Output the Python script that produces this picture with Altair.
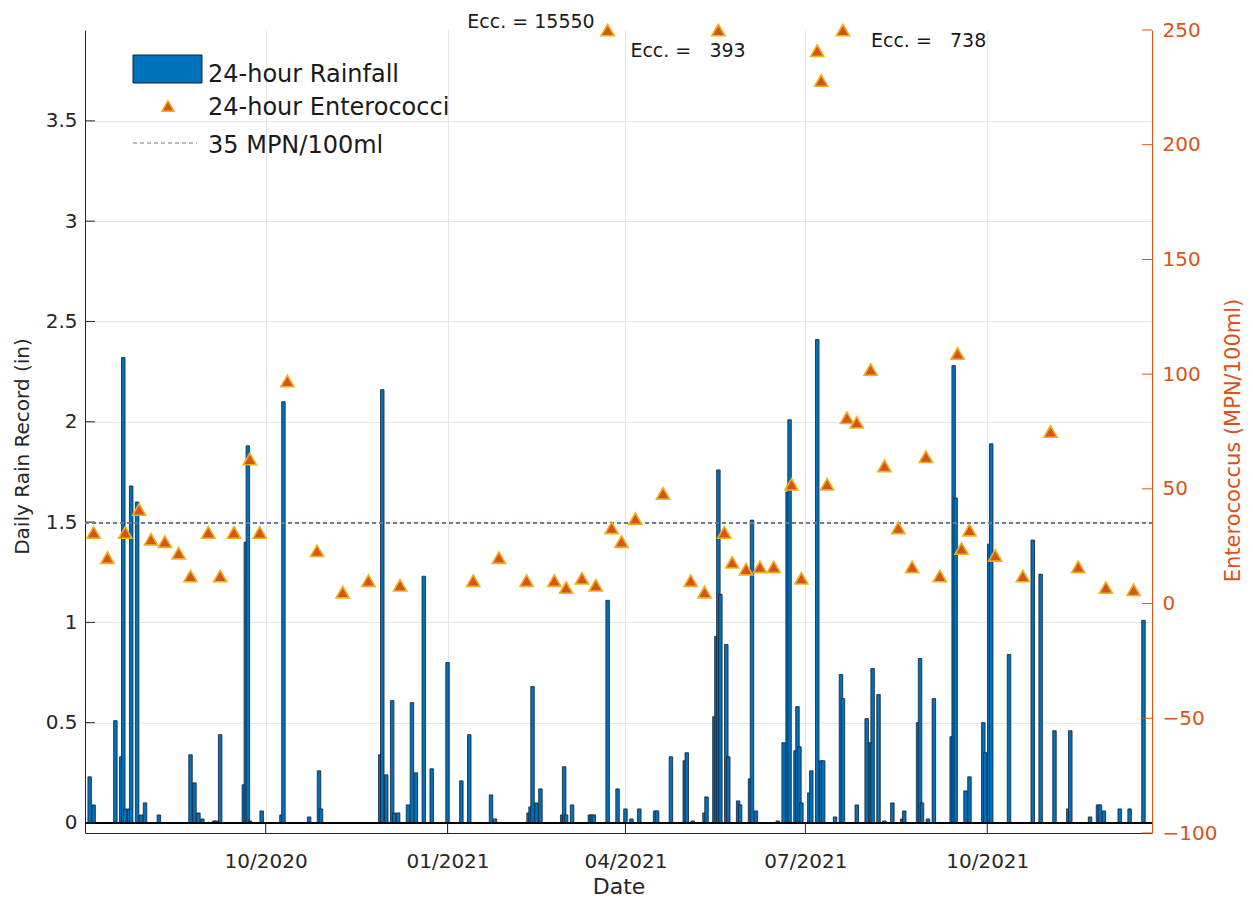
import altair as alt
import pandas as pd

# ---------------- data ----------------
rain_dates = [
    "2020-07-04", "2020-07-06", "2020-07-17", "2020-07-20", "2020-07-21", "2020-07-22", "2020-07-24", "2020-07-25", "2020-07-28", "2020-07-30",
    "2020-08-01", "2020-08-08", "2020-08-24", "2020-08-26", "2020-08-28", "2020-08-30", "2020-09-05", "2020-09-06", "2020-09-08", "2020-09-20",
    "2020-09-21", "2020-09-22", "2020-09-23", "2020-09-29", "2020-10-09", "2020-10-10", "2020-10-23", "2020-10-28", "2020-10-29", "2020-11-28",
    "2020-11-29", "2020-12-01", "2020-12-04", "2020-12-05", "2020-12-07", "2020-12-12", "2020-12-14", "2020-12-16", "2020-12-20", "2020-12-24",
    "2021-01-01", "2021-01-08", "2021-01-12", "2021-01-23", "2021-01-25", "2021-02-11", "2021-02-12", "2021-02-13", "2021-02-15", "2021-02-17",
    "2021-02-28", "2021-03-01", "2021-03-02", "2021-03-05", "2021-03-14", "2021-03-15", "2021-03-16", "2021-03-23", "2021-03-28", "2021-04-01",
    "2021-04-04", "2021-04-08", "2021-04-16", "2021-04-17", "2021-04-24", "2021-05-01", "2021-05-02", "2021-05-05", "2021-05-11", "2021-05-12",
    "2021-05-16", "2021-05-17", "2021-05-18", "2021-05-19", "2021-05-22", "2021-05-23", "2021-05-28", "2021-05-29", "2021-06-03", "2021-06-04",
    "2021-06-06", "2021-06-17", "2021-06-20", "2021-06-22", "2021-06-23", "2021-06-26", "2021-06-27", "2021-06-28", "2021-06-29", "2021-07-03",
    "2021-07-04", "2021-07-07", "2021-07-09", "2021-07-10", "2021-07-16", "2021-07-19", "2021-07-20", "2021-07-27", "2021-08-01", "2021-08-03",
    "2021-08-04", "2021-08-07", "2021-08-10", "2021-08-14", "2021-08-19", "2021-08-20", "2021-08-27", "2021-08-28", "2021-08-29", "2021-09-01",
    "2021-09-04", "2021-09-13", "2021-09-14", "2021-09-15", "2021-09-20", "2021-09-22", "2021-09-29", "2021-09-30", "2021-10-02", "2021-10-03",
    "2021-10-12", "2021-10-24", "2021-10-28", "2021-11-04", "2021-11-11", "2021-11-12", "2021-11-22", "2021-11-26", "2021-11-27", "2021-11-29",
    "2021-12-07", "2021-12-12", "2021-12-19",
]
rain_in = [
    0.23, 0.09, 0.51, 0.33, 2.32, 0.07, 0.07, 1.68, 1.60, 0.04,
    0.10, 0.04, 0.34, 0.20, 0.05, 0.02, 0.01, 0.01, 0.44, 0.19,
    1.40, 1.88, 0.01, 0.06, 0.04, 2.10, 0.03, 0.26, 0.07, 0.34,
    2.16, 0.24, 0.61, 0.05, 0.05, 0.09, 0.60, 0.25, 1.23, 0.27,
    0.80, 0.21, 0.44, 0.14, 0.02, 0.05, 0.08, 0.68, 0.10, 0.17,
    0.04, 0.28, 0.04, 0.09, 0.04, 0.04, 0.04, 1.11, 0.17, 0.07,
    0.02, 0.07, 0.06, 0.06, 0.33, 0.31, 0.35, 0.01, 0.05, 0.13,
    0.53, 0.93, 1.76, 1.14, 0.89, 0.33, 0.11, 0.09, 0.22, 1.51,
    0.06, 0.01, 0.40, 1.65, 2.01, 0.36, 0.58, 0.38, 0.10, 0.15,
    0.26, 2.41, 0.31, 0.31, 0.03, 0.74, 0.62, 0.09, 0.52, 0.40,
    0.77, 0.64, 0.01, 0.10, 0.02, 0.06, 0.50, 0.82, 0.10, 0.02,
    0.62, 0.43, 2.28, 1.62, 0.16, 0.23, 0.50, 0.35, 1.39, 1.89,
    0.84, 1.41, 1.24, 0.46, 0.07, 0.46, 0.03, 0.09, 0.09, 0.06,
    0.07, 0.07, 1.01,
]

ecc_dates = [
    "2020-07-06", "2020-07-13", "2020-07-22", "2020-07-29", "2020-08-04", "2020-08-11", "2020-08-18", "2020-08-24", "2020-09-02", "2020-09-08",
    "2020-09-15", "2020-09-23", "2020-09-28", "2020-10-12", "2020-10-27", "2020-11-09", "2020-11-22", "2020-12-08", "2021-01-14", "2021-01-27",
    "2021-02-10", "2021-02-24", "2021-03-02", "2021-03-10", "2021-03-17", "2021-03-23", "2021-03-25", "2021-03-30", "2021-04-06", "2021-04-20",
    "2021-05-04", "2021-05-11", "2021-05-18", "2021-05-21", "2021-05-25", "2021-06-01", "2021-06-08", "2021-06-15", "2021-06-24", "2021-06-29",
    "2021-07-07", "2021-07-09", "2021-07-12", "2021-07-20", "2021-07-22", "2021-07-27", "2021-08-03", "2021-08-10", "2021-08-17", "2021-08-24",
    "2021-08-31", "2021-09-07", "2021-09-16", "2021-09-18", "2021-09-22", "2021-10-05", "2021-10-19", "2021-11-02", "2021-11-16", "2021-11-30",
    "2021-12-14",
]
ecc_vals = [
    31, 20, 31, 41, 28, 27, 22, 12, 31, 12,
    31, 63, 31, 97, 23, 5, 10, 8, 10, 20,
    10, 10, 7, 11, 8, 15550, 33, 27, 37, 48,
    10, 5, 393, 31, 18, 15, 16, 16, 52, 11,
    241, 228, 52, 738, 81, 79, 102, 60, 33, 16,
    64, 12, 109, 24, 32, 21, 12, 75, 16, 7,
    6,
]

left_ticks = [0, 0.5, 1, 1.5, 2, 2.5, 3, 3.5]
right_ticks = [-100, -50, 0, 50, 100, 150, 200, 250]
x_tick_dates = ["2020-10-01", "2021-01-01", "2021-04-01", "2021-07-01", "2021-10-01"]
threshold = 35
ecc_cap = 250
annot_dates = ["2021-03-23", "2021-05-18", "2021-07-20"]
annot_labels = ["Ecc. = 15550", "Ecc. =\u00a0\u00a0\u00a0393", "Ecc. =\u00a0\u00a0\u00a0738"]
legend_labels = ["24-hour Rainfall", "24-hour Enterococci", "35 MPN/100ml"]

# ---------------- styling ----------------
W, H = 1067, 803
BLUE = "#0072BD"
ORANGE = "#D95319"
YELLOW = "#EDB120"
AX = "#262626"
GRID = "#e6e6e6"
FONT = "DejaVu Sans"


def dt(s, hours=0):
    y, m, d = (int(p) for p in s.split("-"))
    return alt.DateTime(year=y, month=m, date=d, hours=hours, utc=True)


x_scale = alt.Scale(type="utc", domain=[dt("2020-07-04", 4), dt("2021-12-20", 19)])
yl_scale = alt.Scale(domain=[-0.05, 3.953], nice=False, zero=False)
yr_scale = alt.Scale(domain=[-100, 250], nice=False, zero=False)

x_axis = alt.Axis(
    values=[dt(s) for s in x_tick_dates], labelExpr="utcFormat(datum.value, '%m/%Y')",
    title="Date", grid=True, gridColor=GRID, ticks=False, tickSize=0,
    labelPadding=34, labelBaseline="alphabetic", labelFontSize=20, labelColor=AX,
    titleFontSize=22, titleFontWeight="normal", titleColor=AX,
    titleY=60, titleBaseline="alphabetic",
    domainColor=AX, domainWidth=1,
)
yl_axis = alt.Axis(
    values=left_ticks, format="~g", orient="left", title="Daily Rain Record (in)",
    grid=True, gridColor=GRID, ticks=False, tickSize=0, labelPadding=8,
    labelFontSize=20, labelColor=AX, titleFontSize=20, titleFontWeight="normal",
    titleColor=AX, titleAngle=270, titleX=-57, titleY=416, titleBaseline="alphabetic",
    titleAlign="center", domainColor=AX, domainWidth=1,
)
yr_axis = alt.Axis(
    values=right_ticks, format="d", orient="right", title="Enterococcus (MPN/100ml)",
    grid=False, ticks=False, tickSize=0, labelPadding=10,
    labelFontSize=20, labelColor=ORANGE, titleFontSize=21, titleFontWeight="normal",
    titleColor=ORANGE, titleAngle=270, titleX=87, titleY=410, titleBaseline="alphabetic",
    titleAlign="center", domainColor=ORANGE, domainWidth=1,
)

rain_df = pd.DataFrame({"date": rain_dates, "rain": rain_in})
ecc_df = pd.DataFrame({"date": ecc_dates, "ecc": ecc_vals})

# ---------------- left (rain) group ----------------
bars = alt.Chart(rain_df).mark_bar(
    size=3.5, color=BLUE, stroke="#14202e", strokeWidth=0.8, clip=True
).encode(
    x=alt.X("date:T", scale=x_scale, axis=x_axis),
    y=alt.Y("rain:Q", scale=yl_scale, axis=yl_axis),
    y2=alt.datum(0),
)
baseline = alt.Chart(rain_df).mark_rule(color="#000000", strokeWidth=1).encode(
    y=alt.datum(0), x=alt.value(0), x2=alt.value(W)
)
lt_df = pd.DataFrame({"rain": left_ticks})
left_tick_marks = alt.Chart(lt_df).mark_rule(color=AX, strokeWidth=1).encode(
    y=alt.Y("rain:Q", scale=yl_scale), x=alt.value(0), x2=alt.value(10)
)
xt_df = pd.DataFrame({"date": x_tick_dates})
x_tick_marks = alt.Chart(xt_df).mark_rule(color=AX, strokeWidth=1).encode(
    x=alt.X("date:T", scale=x_scale), y=alt.value(H - 10), y2=alt.value(H)
)
left_group = alt.layer(bars, baseline, left_tick_marks, x_tick_marks)

# ---------------- right (enterococci) group ----------------
thr_rule = alt.Chart(ecc_df).mark_rule(
    color="#6f7a94", strokeDash=[4, 3], strokeWidth=1.2
).encode(y=alt.datum(threshold), x=alt.value(0), x2=alt.value(W))

tri = alt.Chart(ecc_df).transform_calculate(
    plot=f"min(datum.ecc, {ecc_cap})"
).mark_point(
    shape="triangle-up", filled=True, size=175, fill=ORANGE, stroke=YELLOW,
    strokeWidth=1.6, opacity=1,
).encode(
    x=alt.X("date:T", scale=x_scale),
    y=alt.Y("plot:Q", scale=yr_scale, axis=yr_axis),
)
rt_df = pd.DataFrame({"plot": right_ticks})
right_tick_marks = alt.Chart(rt_df).mark_rule(color=ORANGE, strokeWidth=1).encode(
    y=alt.Y("plot:Q", scale=yr_scale), x=alt.value(W - 10), x2=alt.value(W)
)

annot_style = dict(font=FONT, fontSize=19, color="#1a1a1a", baseline="alphabetic")
annot_offsets = [("right", -13, -2), ("left", -88, 27), ("left", 28, 17)]
annots = []
for d, lab, (al, dx, dy) in zip(annot_dates, annot_labels, annot_offsets):
    a_df = pd.DataFrame({"date": [d], "label": [lab]})
    annots.append(
        alt.Chart(a_df).mark_text(align=al, dx=dx, dy=dy, **annot_style).encode(
            x=alt.X("date:T", scale=x_scale), y=alt.datum(ecc_cap), text="label:N"
        )
    )

# ---------------- legend (drawn by hand, top-left) ----------------
leg_df = [pd.DataFrame({"label": [t]}) for t in legend_labels]
leg_rect = alt.Chart(leg_df[0]).mark_rect(fill=BLUE, stroke="#14202e", strokeWidth=1).encode(
    x=alt.value(48), x2=alt.value(117), y=alt.value(25), y2=alt.value(53)
)
leg_tri = alt.Chart(leg_df[1]).mark_point(
    shape="triangle-up", filled=True, size=150, fill=ORANGE, stroke=YELLOW, strokeWidth=1.5, opacity=1
).encode(x=alt.value(83), y=alt.value(76))
leg_dash = alt.Chart(leg_df[2]).mark_rule(color="#6f7a94", strokeDash=[4, 3], strokeWidth=1.2).encode(
    x=alt.value(48), x2=alt.value(112), y=alt.value(113)
)
leg_texts = [
    alt.Chart(df).mark_text(align="left", baseline="alphabetic", font=FONT, fontSize=24, color="#1a1a1a").encode(
        x=alt.value(123), y=alt.value(yy), text="label:N"
    )
    for df, yy in zip(leg_df, [52, 85, 123])
]

right_group = alt.layer(thr_rule, right_tick_marks, tri, *annots, leg_rect, leg_tri, leg_dash, *leg_texts)

chart = alt.layer(left_group, right_group).resolve_scale(y="independent").properties(
    width=W, height=H,
    padding={"left": 77, "top": 22, "right": 93, "bottom": 66},
    autosize=alt.AutoSizeParams(type="none"),
).configure(font=FONT).configure_view(stroke=None).configure_axis(
    labelFont=FONT, titleFont=FONT
)

chart.save("out.html", embed_options={"renderer": "svg", "actions": False})
